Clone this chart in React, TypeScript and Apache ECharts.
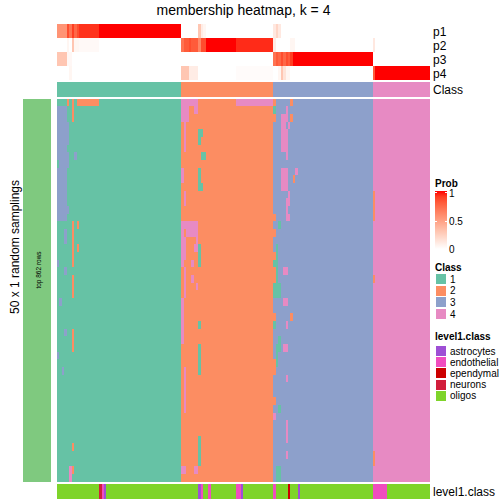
import React, { useEffect, useRef } from "react";
import * as echarts from "echarts";

// ---------- data ----------
const N_COLS = 150;
const N_ROWS = 50;
const classSizes = [50, 37, 40, 23];
const classNames = ["1", "2", "3", "4"];
const classColors = ["#66C2A5", "#FC8D62", "#8DA0CB", "#E78AC3"];
const probRowNames = ["p1", "p2", "p3", "p4"];
// [colStart, colEnd, probability]
const p1Runs = [[0, 3, 0.55], [4, 4, 0.85], [5, 5, 0.7], [6, 6, 0.9], [7, 7, 0.75], [8, 8, 0.85], [9, 16, 0.92], [17, 49, 1], [57, 57, 0.3], [58, 58, 0.1], [59, 59, 0.05], [87, 87, 0.12], [88, 88, 0.22], [89, 89, 0.12]];
const p2Runs = [[4, 4, 0.05], [6, 6, 0.3], [7, 8, 0.05], [9, 16, 0.03], [50, 50, 0.7], [51, 52, 0.8], [53, 53, 0.85], [54, 56, 0.8], [57, 57, 0.62], [58, 59, 0.85], [60, 71, 1], [72, 86, 0.93], [87, 87, 0.1], [94, 95, 0.05], [127, 127, 0.12]];
const p3Runs = [[0, 3, 0.3], [4, 5, 0.04], [87, 87, 0.7], [88, 88, 0.8], [89, 89, 0.75], [90, 90, 0.85], [91, 91, 0.75], [92, 92, 0.85], [93, 93, 0.8], [94, 94, 0.9], [95, 126, 1]];
const p4Runs = [[5, 5, 0.05], [50, 52, 0.3], [53, 56, 0.1], [72, 86, 0.02], [89, 89, 0.05], [90, 90, 0.3], [91, 91, 0.15], [92, 93, 0.05], [127, 127, 0.8], [128, 149, 1]];
const probTicks = [0, 0.5, 1];

const level1Names = ["astrocytes", "endothelial", "ependymal", "neurons", "oligos"];
const level1Colors = ["#9E4FD5", "#F04DBF", "#CC0000", "#D21E3C", "#7ED42A"];
const level1Default = 4;
// [colStart, colEnd, level1 index]
const level1Runs = [[17, 17, 3], [18, 18, 1], [19, 19, 0], [57, 57, 0], [58, 58, 1], [61, 61, 1], [72, 73, 1], [74, 74, 0], [87, 87, 1], [93, 93, 2], [97, 97, 0], [127, 132, 1]];

// [rowStart, rowEnd, colStart, colEnd, class] deviations from each column's consensus class
const mainDeviations = [
  [0, 0, 4, 4, 2], [0, 0, 6, 6, 2], [0, 0, 8, 16, 2],
  [1, 7, 0, 3, 3], [8, 8, 1, 3, 3], [9, 15, 0, 3, 3],
  [3, 5, 4, 4, 3], [7, 8, 4, 4, 3], [14, 14, 4, 4, 3],
  [1, 2, 6, 6, 2], [7, 7, 7, 7, 3],
  [16, 16, 6, 6, 2], [16, 16, 8, 8, 2], [17, 18, 3, 3, 3], [17, 21, 6, 6, 2], [19, 19, 8, 8, 2],
  [21, 21, 0, 0, 3], [22, 22, 3, 3, 3], [23, 25, 6, 6, 2], [26, 26, 1, 1, 3], [30, 30, 3, 3, 3],
  [30, 32, 6, 6, 2], [33, 33, 0, 0, 3], [35, 35, 2, 2, 3], [45, 45, 6, 6, 2], [48, 48, 6, 6, 2], [48, 49, 5, 5, 4],

  [0, 0, 50, 56, 4], [0, 0, 72, 86, 4], [1, 2, 50, 52, 4], [1, 1, 55, 56, 4], [3, 6, 51, 51, 4],
  [4, 4, 57, 58, 1], [5, 5, 57, 57, 1], [7, 7, 58, 59, 1], [9, 10, 50, 50, 4], [9, 10, 57, 57, 1],
  [11, 11, 57, 58, 1], [12, 13, 51, 51, 4],
  [16, 16, 50, 56, 4], [17, 17, 50, 50, 4], [17, 17, 52, 56, 4], [18, 20, 50, 51, 4], [21, 21, 50, 50, 4],
  [18, 19, 56, 56, 4], [19, 19, 55, 55, 4], [19, 21, 57, 57, 1], [21, 21, 54, 54, 4], [22, 25, 51, 51, 4],
  [23, 23, 54, 54, 4], [24, 24, 56, 56, 4], [26, 31, 50, 50, 4], [29, 29, 57, 57, 1], [32, 35, 57, 57, 1],
  [35, 40, 51, 51, 4], [44, 47, 57, 57, 1], [48, 48, 50, 51, 4], [48, 48, 55, 56, 4],

  [0, 0, 87, 87, 2], [0, 0, 94, 94, 2], [1, 1, 87, 87, 1], [1, 1, 92, 92, 4], [2, 2, 87, 87, 2],
  [2, 2, 90, 92, 4], [2, 2, 94, 94, 2], [3, 3, 90, 91, 4], [3, 3, 93, 93, 4], [4, 6, 90, 92, 4],
  [7, 7, 92, 92, 4], [9, 11, 90, 92, 4], [9, 9, 96, 96, 4], [10, 10, 95, 95, 2], [12, 12, 93, 93, 4],
  [13, 13, 92, 93, 4], [14, 14, 92, 92, 4], [15, 15, 92, 93, 4], [15, 15, 87, 87, 2], [16, 16, 89, 89, 1],
  [17, 17, 87, 87, 2], [19, 23, 88, 88, 1], [20, 20, 87, 87, 2], [21, 21, 87, 87, 1], [22, 23, 87, 87, 2],
  [22, 22, 91, 92, 4], [24, 25, 87, 89, 1], [26, 26, 91, 92, 4], [28, 28, 87, 87, 2], [28, 28, 94, 94, 2],
  [29, 29, 87, 87, 1], [29, 29, 92, 92, 4], [31, 31, 89, 89, 1], [32, 32, 88, 89, 1], [32, 32, 91, 92, 4],
  [33, 34, 88, 88, 1], [34, 35, 87, 87, 2], [36, 36, 92, 92, 4], [39, 39, 87, 87, 2], [40, 40, 89, 89, 1],
  [41, 41, 87, 87, 4], [42, 44, 92, 92, 4], [46, 46, 92, 92, 4], [48, 49, 88, 89, 1],

  [12, 15, 127, 127, 2], [23, 23, 127, 127, 2], [46, 47, 127, 127, 2],
];

const titleText = "membership heatmap, k = 4";
const rowTitleText = "50 x 1 random samplings";
const rowSliceText = "top 862 rows";
const sliceColor = "#7FC97F";

// ---------- helpers ----------
function labToHex(L: number, a: number, b: number) {
  let y = (L + 16) / 116;
  let x = a / 500 + y;
  let z = y - b / 200;
  const f = (t: number) => (t * t * t > 0.008856 ? t * t * t : (t - 16 / 116) / 7.787);
  x = 0.95047 * f(x);
  y = 1.0 * f(y);
  z = 1.08883 * f(z);
  const lin = [
    x * 3.2406 + y * -1.5372 + z * -0.4986,
    x * -0.9689 + y * 1.8758 + z * 0.0415,
    x * 0.0557 + y * -0.204 + z * 1.057,
  ];
  return (
    "#" +
    lin
      .map((v) => {
        const g = v > 0.0031308 ? 1.055 * Math.pow(v, 1 / 2.4) - 0.055 : 12.92 * v;
        const c = Math.max(0, Math.min(255, Math.round(g * 255)));
        return c.toString(16).padStart(2, "0");
      })
      .join("")
  );
}
const probStops: string[] = [];
for (let i = 0; i <= 10; i++) {
  const t = i / 10;
  probStops.push(labToHex(100 - 46.76 * t, 80.09 * t, 67.2 * t));
}

function classOfCol(c: number) {
  let acc = 0;
  for (let k = 0; k < classSizes.length; k++) {
    acc += classSizes[k];
    if (c < acc) return k + 1;
  }
  return classSizes.length;
}

const FONT = '"Liberation Sans", Arial, Helvetica, sans-serif';

export default function App() {
  const ref = useRef<HTMLDivElement>(null);
  useEffect(() => {
    if (!ref.current) return;
    const chart = echarts.init(ref.current, undefined, { renderer: "svg" });

    const cols = Array.from({ length: N_COLS }, (_, i) => String(i));

    const probData: number[][] = [];
    [p1Runs, p2Runs, p3Runs, p4Runs].forEach((runs, r) => {
      const vals = new Array(N_COLS).fill(0);
      runs.forEach(([s, e, v]) => {
        for (let c = s; c <= e; c++) vals[c] = v;
      });
      vals.forEach((v, c) => probData.push([c, r, v]));
    });

    const classRowData = cols.map((_, c) => [c, 0, classOfCol(c)]);

    const grid: number[][] = [];
    for (let r = 0; r < N_ROWS; r++) grid.push(cols.map((_, c) => classOfCol(c)));
    mainDeviations.forEach(([r0, r1, c0, c1, k]) => {
      for (let r = r0; r <= r1; r++) for (let c = c0; c <= c1; c++) grid[r][c] = k;
    });
    const mainData: number[][] = [];
    grid.forEach((row, r) => row.forEach((k, c) => mainData.push([c, r, k])));

    const lvl = new Array(N_COLS).fill(level1Default);
    level1Runs.forEach(([s, e, k]) => {
      for (let c = s; c <= e; c++) lvl[c] = k;
    });
    const level1Data = lvl.map((k, c) => [c, 0, k]);

    const L = 57, W = 373;
    const grids = [
      { left: L, top: 24, width: W, height: 56 },
      { left: L, top: 82, width: W, height: 15 },
      { left: L, top: 99, width: W, height: 383 },
      { left: L, top: 484, width: W, height: 15 },
    ];
    const yCats = [probRowNames, ["Class"], Array.from({ length: N_ROWS }, (_, i) => String(i)), ["level1.class"]];

    const txt = (text: string, x: number, y: number, opts: any = {}) => ({
      type: "text",
      x,
      y,
      rotation: opts.rotation || 0,
      silent: true,
      style: {
        text,
        font: `${opts.bold ? "bold " : ""}${opts.size || 12}px ${FONT}`,
        fill: "#000",
        align: opts.align || "left",
        verticalAlign: "middle",
      },
    });

    const elements: any[] = [];
    elements.push(txt(titleText, 243.5, 10, { size: 14, align: "center" }));
    probRowNames.forEach((n, i) => elements.push(txt(n, 433, 32 + i * 14, { size: 12 })));
    elements.push(txt("Class", 433, 90, { size: 12 }));
    elements.push(txt("level1.class", 433, 492, { size: 12 }));
    // left slice bar + labels
    elements.push({ type: "rect", shape: { x: 23, y: 99, width: 28, height: 383 }, style: { fill: sliceColor }, silent: true });
    elements.push(txt(rowSliceText, 38, 270, { size: 6.5, align: "center", rotation: Math.PI / 2 }));
    elements.push(txt(rowTitleText, 15, 247, { size: 12, align: "center", rotation: Math.PI / 2 }));

    // Prob legend
    const barTop = 191, barH = 58;
    elements.push(txt("Prob", 435, 183, { size: 10, bold: true }));
    const gradStops = probStops.map((c, i) => ({ offset: i / 10, color: c }));
    elements.push({
      type: "rect",
      shape: { x: 435, y: barTop, width: 12, height: barH },
      style: {
        // bottom (offset 0) = 0 -> white, top = 1 -> red
        fill: new echarts.graphic.LinearGradient(0, 1, 0, 0, gradStops),
      },
      silent: true,
    });
    probTicks.forEach((t) => {
      const y = barTop + barH * (1 - t);
      if (t > 0) {
        elements.push({ type: "line", shape: { x1: 435, y1: y + 1, x2: 437, y2: y + 1 }, style: { stroke: "#fff", lineWidth: 1 }, silent: true });
        elements.push({ type: "line", shape: { x1: 445, y1: y + 1, x2: 447, y2: y + 1 }, style: { stroke: "#fff", lineWidth: 1 }, silent: true });
      }
      elements.push(txt(String(t), 449, y + (t === 1 ? 2.5 : t === 0 ? 0.5 : 1), { size: 10 }));
    });

    // Class legend
    elements.push(txt("Class", 435, 267, { size: 10, bold: true }));
    classNames.forEach((n, i) => {
      const cy = 279 + i * 11.7;
      elements.push({ type: "rect", shape: { x: 435, y: cy - 5.5, width: 11, height: 11 }, style: { fill: classColors[i], stroke: "#fff", lineWidth: 1 }, silent: true });
      elements.push(txt(n, 450, cy, { size: 10 }));
    });

    // level1 legend
    elements.push(txt("level1.class", 435, 336, { size: 10, bold: true }));
    level1Names.forEach((n, i) => {
      const cy = 351 + i * 11.2;
      elements.push({ type: "rect", shape: { x: 435, y: cy - 5.5, width: 11, height: 11 }, style: { fill: level1Colors[i], stroke: "#fff", lineWidth: 1 }, silent: true });
      elements.push(txt(n, 450, cy, { size: 10 }));
    });

    const seriesBase = { type: "heatmap", silent: true, progressive: 0, emphasis: { disabled: true } };

    chart.setOption({
      animation: false,
      grid: grids,
      xAxis: grids.map((_, i) => ({ type: "category", gridIndex: i, data: cols, show: false })),
      yAxis: grids.map((_, i) => ({ type: "category", gridIndex: i, data: yCats[i], show: false, inverse: true })),
      visualMap: [
        { type: "continuous", min: 0, max: 1, seriesIndex: 0, show: false, inRange: { color: probStops } },
        { type: "piecewise", seriesIndex: [1, 2], show: false, pieces: classColors.map((c, i) => ({ value: i + 1, color: c })) },
        { type: "piecewise", seriesIndex: 3, show: false, pieces: level1Colors.map((c, i) => ({ value: i, color: c })) },
      ],
      series: [
        { ...seriesBase, xAxisIndex: 0, yAxisIndex: 0, data: probData },
        { ...seriesBase, xAxisIndex: 1, yAxisIndex: 1, data: classRowData },
        { ...seriesBase, xAxisIndex: 2, yAxisIndex: 2, data: mainData },
        { ...seriesBase, xAxisIndex: 3, yAxisIndex: 3, data: level1Data },
      ],
      graphic: { elements },
    });
    return () => chart.dispose();
  }, []);
  return (
    <>
      <style>{`.hm-root svg path, .hm-root svg rect { shape-rendering: crispEdges; }`}</style>
      <div className="hm-root" ref={ref} style={{ position: "absolute", left: 0, top: 0, width: 504, height: 504 }} />
    </>
  );
}
